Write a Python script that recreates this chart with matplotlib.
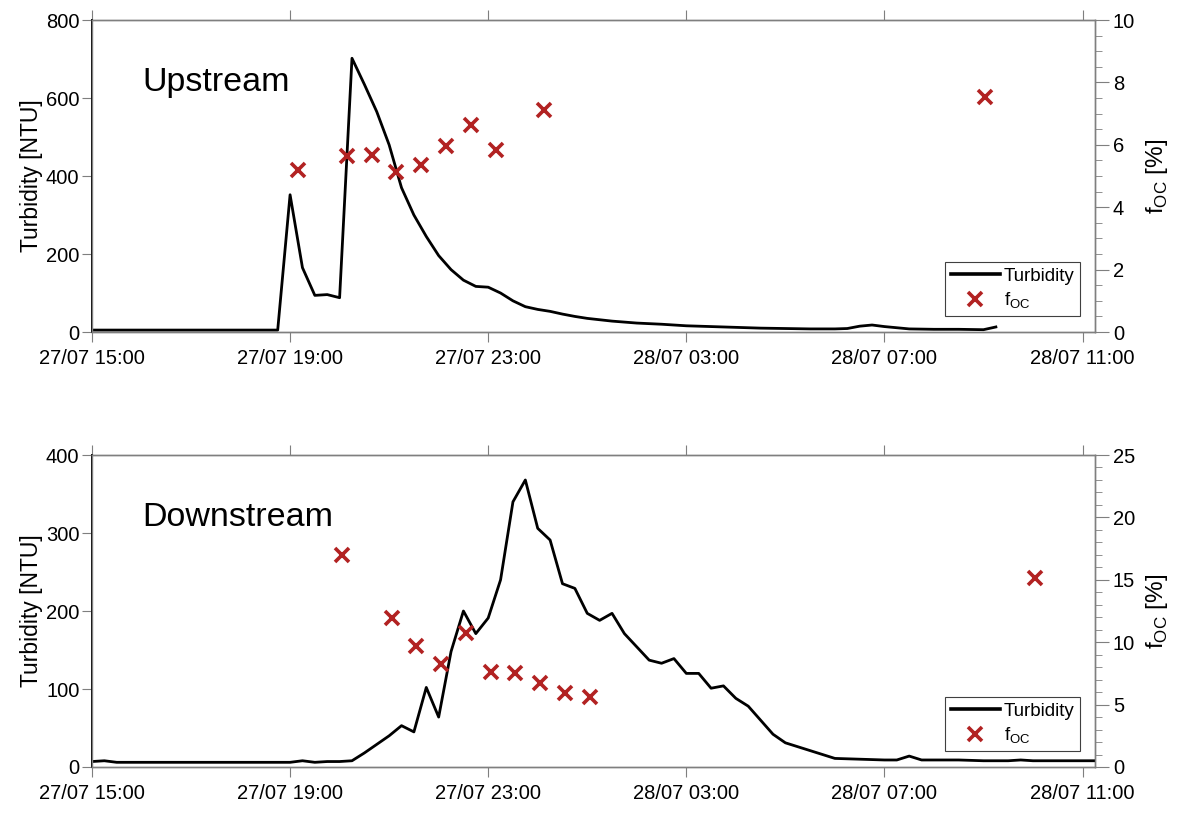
import numpy as np
import pandas as pd
import matplotlib
matplotlib.use("Agg")
import matplotlib.pyplot as plt
import matplotlib.dates as mdates
from matplotlib.ticker import MultipleLocator
from matplotlib.lines import Line2D

plt.rcParams['font.family'] = ['Liberation Sans', 'DejaVu Sans']
plt.rcParams['mathtext.fontset'] = 'custom'
plt.rcParams['mathtext.rm'] = 'Liberation Sans'

# Event start: 27/07 15:00, all times below are hours after that
t0 = pd.Timestamp("2019-07-27 15:00")

# Upstream station
up_turb_h = [0, 3.75, 4.0, 4.25, 4.5, 4.75, 5.0, 5.25, 5.5, 5.75, 6.0, 6.25, 6.5, 6.75,
             7.0, 7.25, 7.5, 7.75, 8.0, 8.25, 8.5, 8.75, 9.0, 9.25, 9.5, 9.75, 10.0,
             10.5, 11.0, 11.5, 12.0, 12.5, 13.0, 13.5, 14.0, 14.5, 15.0, 15.25, 15.5,
             15.75, 16.0, 16.25, 16.5, 17.0, 17.5, 18.0, 18.25]
up_turb = [5, 5, 352, 165, 94, 96, 88, 702, 635, 565, 480, 370, 300, 245,
           196, 160, 133, 117, 115, 100, 80, 65, 58, 53, 46, 40, 35,
           28, 23, 20, 16, 14, 12, 10, 9, 8, 8, 9, 15,
           18, 14, 11, 8, 7, 7, 6, 13]
up_foc_h = [4.16, 5.14, 5.65, 6.14, 6.65, 7.15, 7.65, 8.16, 9.12, 18.04]
up_foc = [5.2, 5.65, 5.67, 5.12, 5.35, 5.97, 6.62, 5.85, 7.12, 7.53]

# Downstream station
down_turb_h = [0, 0.25, 0.5, 2.0, 4.0, 4.25, 4.5, 4.75, 5.0, 5.25, 5.5, 5.75, 6.0,
               6.25, 6.5, 6.75, 7.0, 7.25, 7.5, 7.75, 8.0, 8.25, 8.5, 8.75, 9.0,
               9.25, 9.5, 9.75, 10.0, 10.25, 10.5, 10.75, 11.0, 11.25, 11.5, 11.75,
               12.0, 12.25, 12.5, 12.75, 13.0, 13.25, 13.5, 13.75, 14.0, 14.25,
               14.5, 14.75, 15.0, 15.5, 16.0, 16.25, 16.5, 16.75, 17.0, 17.5, 18.0,
               18.5, 18.75, 19.0, 19.5, 20.0, 20.25]
down_turb = [7, 8, 6, 6, 6, 8, 6, 7, 7, 8, 18, 29, 40,
             53, 45, 102, 64, 148, 200, 171, 191, 240, 340, 368, 306,
             291, 235, 229, 197, 188, 197, 171, 154, 137, 133, 139,
             120, 120, 101, 104, 88, 78, 60, 42, 31, 26,
             21, 16, 11, 10, 9, 9, 14, 9, 9, 9, 8,
             8, 9, 8, 8, 8, 8]
down_foc_h = [5.04, 6.05, 6.55, 7.05, 7.55, 8.05, 8.55, 9.05, 9.56, 10.06, 19.03]
down_foc = [17.0, 11.9, 9.7, 8.25, 10.7, 7.65, 7.55, 6.7, 5.9, 5.6, 15.15]

panels = [
    ("Upstream", up_turb_h, up_turb, up_foc_h, up_foc, 800, 200, 10, 2, 0.5),
    ("Downstream", down_turb_h, down_turb, down_foc_h, down_foc, 400, 100, 25, 5, 1),
]

red = '#b22222'
grey = '#7f7f7f'
foc_label = 'f$_{\\mathrm{OC}}$'


def to_time(hours):
    return t0 + pd.to_timedelta(np.array(hours), unit='h')


fig = plt.figure(figsize=(11.85, 8.15), dpi=100)
boxes = [[0.0776, 0.5926, 0.8464, 0.3828], [0.0776, 0.0589, 0.8464, 0.3828]]

for box, (name, th, turb, fh, foc, ymax, ystep, fmax, fstep, fminor) in zip(boxes, panels):
    ax = fig.add_axes(box)
    ax2 = ax.twinx()

    ax.plot(to_time(th), turb, color='black', lw=2.0, zorder=3)
    ax2.plot(to_time(fh), foc, linestyle='none', marker='x', color=red,
             markersize=10, markeredgewidth=2.6)

    ax.set_xlim(t0, t0 + pd.Timedelta(hours=20.25))
    ax.xaxis.set_major_locator(mdates.HourLocator(byhour=[3, 7, 11, 15, 19, 23]))
    ax.xaxis.set_major_formatter(mdates.DateFormatter('%d/%m %H:%M'))
    ax.set_ylim(0, ymax)
    ax.yaxis.set_major_locator(MultipleLocator(ystep))
    ax2.set_ylim(0, fmax)
    ax2.yaxis.set_major_locator(MultipleLocator(fstep))
    ax2.yaxis.set_minor_locator(MultipleLocator(fminor))

    ax.set_ylabel('Turbidity [NTU]', fontsize=16.5, labelpad=2)
    ax2.set_ylabel(foc_label + ' [%]', fontsize=17.5, labelpad=6)

    ax.tick_params(axis='x', which='both', direction='out', top=True, length=7,
                   color=grey, labelsize=14.5, pad=5)
    ax.tick_params(axis='y', direction='out', length=7, color=grey, labelsize=14.5,
                   pad=2)
    ax2.tick_params(axis='y', which='major', direction='out', length=10, color=grey,
                    labelsize=14.5, pad=3)
    ax2.tick_params(axis='y', which='minor', direction='out', length=5, color=grey)

    for a in (ax, ax2):
        for s in a.spines.values():
            s.set_color(grey)
            s.set_linewidth(1.0)
    ax.spines['left'].set_color('black')
    ax.spines['left'].set_linewidth(1.4)

    ax.text(0.05, 0.80, name, transform=ax.transAxes, fontsize=24.5,
            va='center', ha='left')

    handles = [Line2D([], [], color='black', lw=2.6),
               Line2D([], [], linestyle='none', marker='x', color=red,
                      markersize=10, markeredgewidth=2.6)]
    leg = ax2.legend(handles, ['Turbidity', foc_label], loc='lower right',
                     bbox_to_anchor=(0.985, 0.05), borderaxespad=0, fontsize=13.5,
                     fancybox=False, framealpha=1, edgecolor='#404040',
                     handlelength=2.6, handletextpad=0.2, borderpad=0.3,
                     labelspacing=0.3)
    leg.get_frame().set_linewidth(0.8)

fig.savefig('out.png', dpi=100)
